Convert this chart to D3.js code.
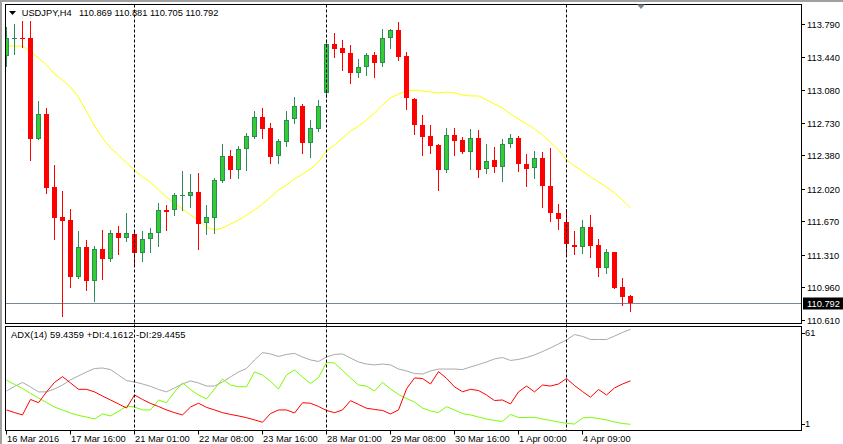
<!DOCTYPE html>
<html><head><meta charset="utf-8">
<script src="https://cdn.jsdelivr.net/npm/d3@7"></script>
<style>html,body{margin:0;padding:0;background:#fff;overflow:hidden}</style>
</head><body><svg id="c" width="843" height="444"></svg>
<script>
// ---- data (USDJPY, H4) ----
const symbolName = "USDJPY,H4";
const adxTitle = "ADX(14) 59.4359 +DI:4.1612 -DI:29.4455";
const openP = [
113.446,113.635,113.640,113.640,112.555,112.823,112.039,111.717,111.684,111.072,
111.394,111.029,111.373,111.265,111.545,111.491,111.534,111.330,111.480,111.545,
111.792,111.792,111.942,111.942,111.985,111.652,111.706,112.103,112.372,112.222,
112.447,112.576,112.791,112.673,112.372,112.522,112.769,112.909,112.512,112.662,
113.049,113.575,113.532,113.478,113.264,113.328,113.457,113.371,113.640,113.726,
113.446,112.984,112.705,112.587,112.490,112.222,112.597,112.544,112.415,112.565,
112.232,112.329,112.254,112.501,112.565,112.286,112.243,112.350,112.050,111.760,
111.663,111.416,111.394,111.609,111.416,111.169,111.341,110.965,110.869];
const highP = [
113.758,113.790,113.822,113.822,112.963,112.888,112.275,111.996,111.803,111.566,
111.470,111.405,111.577,111.577,111.620,111.760,111.555,111.566,111.598,111.867,
111.846,111.974,112.211,112.179,112.189,111.846,112.136,112.501,112.436,112.479,
112.619,112.855,112.888,112.726,112.555,112.855,113.006,112.931,112.759,112.974,
113.597,113.693,113.618,113.564,113.414,113.478,113.489,113.736,113.736,113.811,
113.489,112.995,112.812,112.705,112.501,112.673,112.673,112.576,112.662,112.651,
112.501,112.469,112.555,112.608,112.587,112.393,112.426,112.415,112.458,111.856,
111.803,111.566,111.684,111.738,111.480,111.373,111.345,111.061,110.881];
const lowP = [
113.339,113.468,113.543,112.329,112.550,111.974,111.480,110.653,110.965,111.061,
110.932,110.814,111.050,111.244,111.319,111.459,111.212,111.244,111.341,111.405,
111.577,111.738,111.792,111.824,111.373,111.534,111.545,112.093,112.136,112.136,
112.222,112.570,112.565,112.297,112.297,112.479,112.726,112.404,112.361,112.640,
113.006,113.435,113.296,113.156,113.221,113.242,113.221,113.339,113.532,113.403,
112.877,112.608,112.383,112.404,112.007,112.200,112.383,112.404,112.232,112.146,
112.189,112.200,112.103,112.469,112.211,112.050,112.136,111.824,111.674,111.588,
111.319,111.319,111.330,111.287,111.083,111.115,110.950,110.771,110.705];
const closeP = [
113.640,113.640,113.635,112.555,112.823,112.028,111.706,111.674,111.072,111.394,
111.029,111.373,111.265,111.545,111.491,111.545,111.330,111.480,111.545,111.792,
111.770,111.953,111.953,111.985,111.641,111.717,112.114,112.372,112.222,112.447,
112.587,112.791,112.662,112.361,112.533,112.759,112.909,112.512,112.673,112.909,
113.575,113.521,113.478,113.264,113.328,113.457,113.371,113.640,113.726,113.435,
112.995,112.705,112.576,112.479,112.222,112.597,112.533,112.415,112.565,112.222,
112.318,112.254,112.501,112.565,112.286,112.232,112.350,112.050,111.760,111.695,
111.426,111.394,111.609,111.405,111.169,111.341,110.954,110.857,110.792];
const maLine = [
113.553,113.553,113.553,113.489,113.425,113.350,113.253,113.188,113.113,113.006,
112.850,112.694,112.565,112.458,112.383,112.297,112.222,112.146,112.093,112.007,
111.931,111.867,111.803,111.738,111.684,111.609,111.577,111.598,111.641,111.684,
111.738,111.792,111.856,111.931,112.007,112.060,112.125,112.179,112.232,112.308,
112.426,112.490,112.565,112.640,112.694,112.759,112.834,112.920,112.995,113.038,
113.070,113.081,113.070,113.059,113.049,113.059,113.049,113.027,113.017,113.017,
112.974,112.931,112.888,112.823,112.769,112.716,112.662,112.597,112.522,112.436,
112.329,112.264,112.211,112.146,112.093,112.039,111.974,111.899,111.813];
const adxMain = [
23.5,26.2,28.5,25.9,23.0,23.0,24.7,27.0,30.0,32.3,
34.6,36.6,36.9,36.0,32.8,29.6,28.8,27.6,26.2,24.4,
23.0,25.3,27.6,29.4,28.2,26.4,26.4,28.8,31.7,34.6,
36.6,41.6,45.9,45.1,43.6,44.8,45.4,43.3,41.6,40.7,
43.3,44.8,45.1,42.7,40.4,39.2,38.7,39.2,38.7,36.3,
35.2,33.7,33.4,35.2,36.3,36.3,36.3,36.0,37.5,38.9,
40.4,42.2,43.0,41.3,41.9,43.0,44.5,46.5,48.6,50.9,
53.2,56.4,55.3,53.5,53.5,53.5,55.5,57.6,59.4];
const plusDI = [
29.9,27.3,25.0,22.1,19.5,16.8,14.2,12.5,10.7,9.3,
8.4,7.2,10.2,9.0,11.6,14.8,14.2,12.5,12.5,18.3,
16.7,23.0,28.2,24.4,21.2,18.9,24.7,30.5,27.0,26.0,
26.0,34.6,32.8,29.1,24.7,32.8,35.8,31.7,27.9,31.3,
40.1,39.8,35.5,31.1,27.0,26.4,23.5,28.6,24.7,21.5,
19.2,17.1,13.6,11.9,11.0,14.4,12.5,10.4,9.6,8.4,
7.2,6.4,5.8,9.9,8.1,8.1,8.2,7.2,6.4,5.5,
4.7,4.3,7.8,8.2,7.5,6.7,5.5,4.6,4.16];
const minusDI = [
12.5,11.0,9.6,18.6,16.7,23.0,28.5,31.9,28.2,24.5,
24.5,23.0,20.6,18.3,16.0,13.6,21.2,18.6,16.3,14.5,
12.5,10.9,9.6,14.2,16.4,14.0,12.5,10.9,9.9,9.0,
8.0,6.7,5.3,10.4,12.5,12.5,10.7,16.7,16.4,14.5,
12.2,10.9,12.5,17.9,15.7,13.5,12.8,12.2,10.2,12.5,
24.7,31.1,30.8,27.6,34.8,30.9,25.9,23.1,24.5,23.8,
21.2,18.0,18.3,16.0,23.0,26.4,23.0,27.0,26.4,27.6,
30.8,26.7,23.2,19.9,24.4,21.2,25.3,27.6,29.4];
const timeLabels = ["16 Mar 2016","17 Mar 16:00","21 Mar 01:00","22 Mar 08:00","23 Mar 16:00",
  "28 Mar 01:00","29 Mar 08:00","30 Mar 16:00","1 Apr 00:00","4 Apr 09:00"];
const timeLabelBars = [0,8,16,24,32,40,48,56,64,72];
const separatorBars = [16,40,70];
const priceTicks = [113.790,113.440,113.080,112.730,112.380,112.020,111.670,111.310,110.960,110.610];
const adxTicks = [61,1];
const lastPrice = 110.792;

// ---- layout ----
const svg = d3.select('#c');
const FONT = "'Liberation Sans', Arial, sans-serif";
const FS = 9.3;
const PL = 5.5, PR = 801.5;
const mainTop = 4.5, mainBot = 323.5, indTop = 326.5, indBot = 430.5;
const n = closeP.length;
const x = d3.scaleLinear().domain([0, n - 1]).range([6.5, 6.5 + 8 * (n - 1)]);
const y = d3.scaleLinear().domain([110.61, 113.79]).range([320, 24]);
const yi = d3.scaleLinear().domain([1, 61]).range([429.7, 326.6]);

// window frame
svg.append('rect').attr('x',0).attr('y',0).attr('width',843).attr('height',444).attr('fill','#fff');
svg.append('rect').attr('x',0).attr('y',0).attr('width',843).attr('height',2).attr('fill','#a0a0a0');
svg.append('rect').attr('x',0).attr('y',0).attr('width',2).attr('height',444).attr('fill','#a0a0a0');

const defs = svg.append('defs');
defs.append('clipPath').attr('id','cm').append('rect')
  .attr('x',PL+0.5).attr('y',mainTop+0.5).attr('width',PR-PL-1).attr('height',mainBot-mainTop-1);
defs.append('clipPath').attr('id','ci').append('rect')
  .attr('x',PL+0.5).attr('y',indTop+0.5).attr('width',PR-PL-1).attr('height',indBot-indTop-1);

const gm = svg.append('g').attr('clip-path','url(#cm)');
const gi = svg.append('g').attr('clip-path','url(#ci)');

// period separators
separatorBars.forEach(b => {
  svg.append('line').attr('x1',x(b)).attr('x2',x(b)).attr('y1',mainTop).attr('y2',indBot)
    .attr('stroke','#000').attr('stroke-width',1).attr('stroke-dasharray','3,2');
});

// last price line
gm.append('line').attr('x1',PL).attr('x2',PR)
  .attr('y1',Math.round(y(lastPrice))+0.5).attr('y2',Math.round(y(lastPrice))+0.5)
  .attr('stroke','#778899').attr('stroke-width',1);

// moving average
gm.append('path').datum(maLine)
  .attr('d', d3.line().x((d,i)=>x(i)).y(d=>y(d)))
  .attr('fill','none').attr('stroke','#ffff00').attr('stroke-width',1);

// candles
const idx = d3.range(n);
const cg = gm.append('g');
idx.forEach(i => {
  const up = closeP[i] >= openP[i];
  const cx = x(i);
  const wickCol = up ? '#2e8b57' : '#ff0000';
  cg.append('line').attr('x1',cx).attr('x2',cx)
    .attr('y1',Math.round(y(highP[i]))).attr('y2',Math.round(y(lowP[i]))+1)
    .attr('stroke',wickCol).attr('stroke-width',1);
  const top = Math.round(y(Math.max(openP[i],closeP[i])));
  const bot = Math.round(y(Math.min(openP[i],closeP[i])));
  const h = Math.max(1, bot - top);
  if (up) {
    if (h <= 2) {
      cg.append('rect').attr('x',cx-2.5).attr('y',top).attr('width',5).attr('height',Math.max(1,h))
        .attr('fill','#2e8b57');
    } else {
      cg.append('rect').attr('x',cx-2).attr('y',top+0.5).attr('width',4).attr('height',h-1)
        .attr('fill','#32cd32').attr('stroke','#2e8b57').attr('stroke-width',1);
    }
  } else {
    cg.append('rect').attr('x',cx-2.5).attr('y',top).attr('width',5).attr('height',h)
      .attr('fill','#ff0000');
  }
});

// ADX lines
[[adxMain,'#a9a9a9'],[plusDI,'#7cfc00'],[minusDI,'#ff0000']].forEach(([arr,col]) => {
  gi.append('path').datum(arr)
    .attr('d', d3.line().x((d,i)=>x(i)).y(d=>yi(d)))
    .attr('fill','none').attr('stroke',col).attr('stroke-width',1);
});

// panel borders
svg.append('rect').attr('x',PL).attr('y',mainTop).attr('width',PR-PL).attr('height',mainBot-mainTop)
  .attr('fill','none').attr('stroke','#000');
svg.append('rect').attr('x',PL).attr('y',indTop).attr('width',PR-PL).attr('height',indBot-indTop)
  .attr('fill','none').attr('stroke','#000');

// chart shift marker
svg.append('path').attr('d','M637,4.5 L645,4.5 L641,9 Z').attr('fill','#778899');

// price axis
const pa = svg.append('g');
priceTicks.forEach(v => {
  const yy = Math.round(y(v)) + 0.5;
  pa.append('line').attr('x1',PR).attr('x2',PR+3.5).attr('y1',yy).attr('y2',yy).attr('stroke','#000');
  pa.append('text').attr('x',807).attr('y',yy).attr('dy','0.35em').text(v.toFixed(3))
    .attr('font-family',FONT).attr('font-size',FS).attr('fill','#000');
});
// last price box
const ly = Math.round(y(lastPrice)) + 0.5;
pa.append('rect').attr('x',803).attr('y',ly-6).attr('width',40).attr('height',12).attr('fill','#000');
pa.append('text').attr('x',807).attr('y',ly).attr('dy','0.35em').text(lastPrice.toFixed(3))
  .attr('font-family',FONT).attr('font-size',FS).attr('fill','#fff');

// indicator axis
adxTicks.forEach((v,k) => {
  const yy = k === 0 ? yi(v) + 6.5 : yi(v) - 5.5;
  svg.append('line').attr('x1',PR).attr('x2',PR+3.5).attr('y1',Math.round(yy)+0.5).attr('y2',Math.round(yy)+0.5).attr('stroke','#000');
  svg.append('text').attr('x',805).attr('y',yy).attr('dy','0.35em').text(String(v))
    .attr('font-family',FONT).attr('font-size',FS).attr('fill','#000');
});

// time axis
timeLabelBars.forEach((b,k) => {
  const tx = Math.round(x(b)) - 0.5;
  svg.append('line').attr('x1',tx).attr('x2',tx).attr('y1',indBot).attr('y2',indBot+4).attr('stroke','#000');
  svg.append('text').attr('x',tx+0.5).attr('y',442).text(timeLabels[k])
    .attr('font-family',FONT).attr('font-size',FS).attr('fill','#000');
});

// titles
svg.append('path').attr('d','M9,11 L16,11 L12.5,15 Z').attr('fill','#000');
const last = n - 1;
const titleVals = [openP[last], highP[last], lowP[last], closeP[last]].map(v => v.toFixed(3));
const tt = svg.append('text').attr('y',16.3)
  .attr('font-family',FONT).attr('font-size',FS).attr('fill','#000');
tt.append('tspan').attr('x',21.7).text(symbolName);
titleVals.forEach((s,k) => tt.append('tspan').attr('x',79 + 35.5*k).text(s));
svg.append('text').attr('x',11).attr('y',338.3).text(adxTitle)
  .attr('textLength',174.5).attr('lengthAdjust','spacing')
  .attr('font-family',FONT).attr('font-size',FS).attr('fill','#000');
</script>
</body></html>
